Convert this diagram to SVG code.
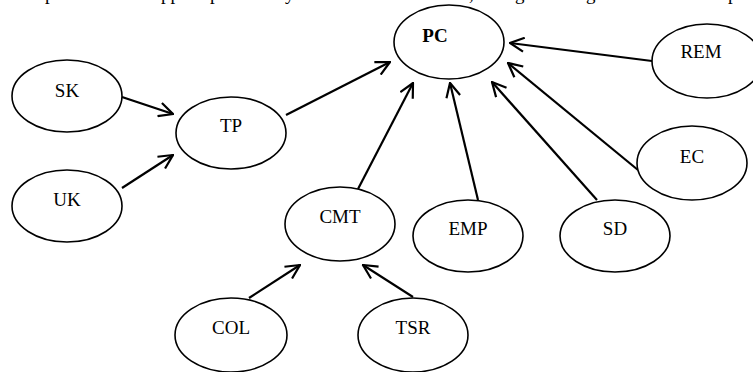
<svg xmlns="http://www.w3.org/2000/svg" width="753" height="372" viewBox="0 0 753 372">
<style>
.n ellipse{fill:#fff;stroke:#000;stroke-width:1.6}
.n text{font-family:"Liberation Serif","Times New Roman",serif;font-size:19px;fill:#000;text-anchor:middle}
.c line{stroke:#000;stroke-width:2.2;marker-end:url(#a)}
.frag{font-family:"Liberation Serif","Times New Roman",serif;font-size:19px;fill:#000}
</style>
<defs>
<marker id="a" viewBox="0 0 16 16" refX="15" refY="8" markerWidth="16" markerHeight="16" markerUnits="userSpaceOnUse" orient="auto">
<path d="M1,1 L15,8 L1,15" fill="none" stroke="#000" stroke-width="2.2"/>
</marker>
</defs>
<rect width="753" height="372" fill="#fff"/>
<g class="frag">
<text x="45" y="0">p</text>
<text x="161" y="0">pp</text>
<text x="210" y="0">p</text>
<text x="285" y="0">y</text>
<text x="469" y="0">,</text>
<text x="515" y="0">g</text>
<text x="586" y="0">g</text>
<text x="728" y="0">p</text>
</g>
<g class="c">
<line x1="122" y1="97" x2="173" y2="114"/>
<line x1="122" y1="188" x2="173" y2="155"/>
<line x1="286" y1="115" x2="390" y2="62"/>
<line x1="358" y1="189" x2="413" y2="83"/>
<line x1="478" y1="200" x2="450" y2="83"/>
<line x1="597" y1="200" x2="492" y2="82"/>
<line x1="638" y1="170" x2="508" y2="63"/>
<line x1="652" y1="61" x2="510" y2="43"/>
<line x1="249" y1="298" x2="300" y2="265"/>
<line x1="413" y1="297" x2="363" y2="265"/>
</g>
<g id="PC" class="n"><ellipse cx="449" cy="42" rx="55" ry="37"/><text x="435" y="42" font-weight="bold">PC</text></g>
<g id="SK" class="n"><ellipse cx="67" cy="96" rx="55" ry="36"/><text x="67" y="97">SK</text></g>
<g id="TP" class="n"><ellipse cx="231" cy="133" rx="55" ry="36"/><text x="231" y="132">TP</text></g>
<g id="UK" class="n"><ellipse cx="67" cy="206" rx="55" ry="36"/><text x="67" y="206">UK</text></g>
<g id="REM" class="n"><ellipse cx="707" cy="61" rx="55" ry="37"/><text x="701" y="58">REM</text></g>
<g id="EC" class="n"><ellipse cx="692" cy="163" rx="55" ry="37"/><text x="692" y="163">EC</text></g>
<g id="CMT" class="n"><ellipse cx="340" cy="224" rx="55" ry="37"/><text x="340" y="223">CMT</text></g>
<g id="EMP" class="n"><ellipse cx="468" cy="236" rx="55" ry="36"/><text x="468" y="235">EMP</text></g>
<g id="SD" class="n"><ellipse cx="615" cy="236" rx="55" ry="36"/><text x="615" y="235">SD</text></g>
<g id="COL" class="n"><ellipse cx="231" cy="335" rx="56" ry="37"/><text x="231" y="334">COL</text></g>
<g id="TSR" class="n"><ellipse cx="413" cy="335" rx="55" ry="37"/><text x="413" y="334">TSR</text></g>
</svg>
